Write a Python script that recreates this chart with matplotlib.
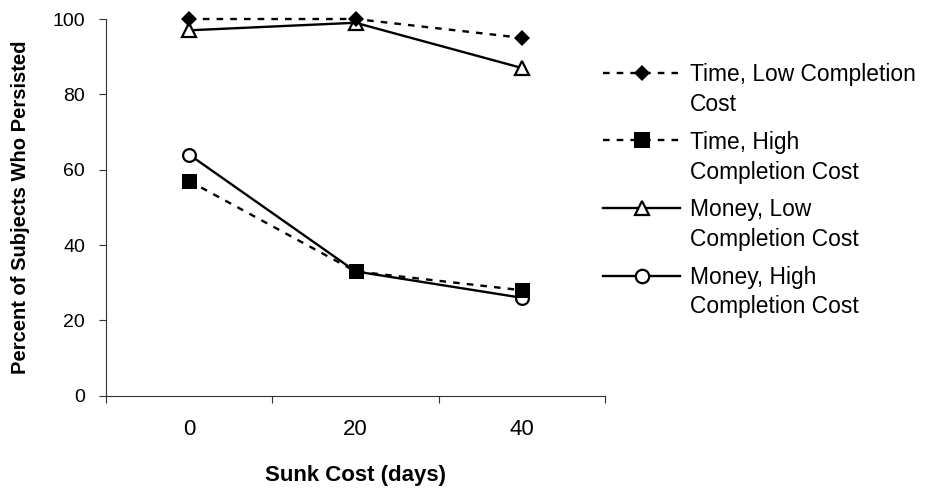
import matplotlib

matplotlib.use("Agg")
import matplotlib.pyplot as plt
from matplotlib.lines import Line2D
from matplotlib.ticker import FixedLocator

plt.rcParams["font.family"] = ["Liberation Sans", "DejaVu Sans"]

# persistence by sunk cost, per condition
sunk_cost_days = ["0", "20", "40"]
time_low = [100, 100, 95]
time_high = [57, 33, 28]
money_low = [97, 99, 87]
money_high = [64, 33, 26]

series_labels = [
    "Time, Low Completion\nCost",
    "Time, High\nCompletion Cost",
    "Money, Low\nCompletion Cost",
    "Money, High\nCompletion Cost",
]

W, H = 927, 490
fig = plt.figure(figsize=(W / 100, H / 100), dpi=100)
ax = fig.add_axes([106 / W, 1 - 395.7 / H, 499 / W, 376.7 / H])

lw = 1.7
dash = (0, (2.8, 3.0))
styles = [
    dict(ls=dash, marker="D", ms=8.2, mfc="black", mec="black", mew=0),
    dict(ls=dash, marker="s", ms=10.8, mfc="black", mec="black", mew=0),
    dict(ls="-", marker="^", ms=9.5, mfc="white", mec="black", mew=1.6),
    dict(ls="-", marker="o", ms=9.2, mfc="white", mec="black", mew=1.6),
]
values = [time_low, time_high, money_low, money_high]
zorders = [5, 4, 3, 2]

x = range(len(sunk_cost_days))
for vals, st, z in zip(values, styles, zorders):
    ax.plot(x, vals, color="black", lw=lw, clip_on=False, zorder=z, **st)

ax.set_xlim(-0.5, len(sunk_cost_days) - 0.5)
ax.set_ylim(0, 100)
ax.set_yticks(range(0, 101, 20))
ax.set_xticks(list(x))
ax.set_xticklabels(sunk_cost_days)
ax.xaxis.set_minor_locator(FixedLocator([i - 0.5 for i in range(len(sunk_cost_days) + 1)]))

for side in ("top", "right"):
    ax.spines[side].set_visible(False)
for side in ("left", "bottom"):
    ax.spines[side].set_linewidth(0.8)
    ax.spines[side].set_color("#333333")

ax.tick_params(axis="x", which="major", length=0, pad=17, labelsize=16)
ax.tick_params(axis="x", which="minor", length=5, width=0.8, direction="out", color="#333333")
ax.tick_params(axis="y", length=5, width=0.8, direction="out", pad=10, labelsize=14, color="#333333")

ax.set_xlabel("Sunk Cost (days)", fontsize=16, fontweight="bold", labelpad=17.5)
ax.set_ylabel("Percent of Subjects Who Persisted", fontsize=14.5, fontweight="bold", labelpad=16)

# legend drawn by hand so the marker lines up with the first text line
row_y = [73, 140.5, 208, 275.5]
line_x0, line_x1, mark_x, text_x = 603, 680, 642, 690
for label, st, y in zip(series_labels, styles, row_y):
    fy = 1 - y / H
    fig.add_artist(Line2D([line_x0 / W, line_x1 / W], [fy, fy], color="black",
                          lw=lw, ls=st["ls"], transform=fig.transFigure))
    fig.add_artist(Line2D([mark_x / W], [fy], color="black", lw=0,
                          marker=st["marker"], ms=st["ms"] * 1.05, mfc=st["mfc"],
                          mec=st["mec"], mew=st["mew"], transform=fig.transFigure))
    for k, part in enumerate(label.split("\n")):
        fig.text(text_x / W, 1 - (y + 8 + 30 * k) / H, part, fontsize=16.4,
                 va="baseline", ha="left")

fig.savefig("out.png", dpi=100)
